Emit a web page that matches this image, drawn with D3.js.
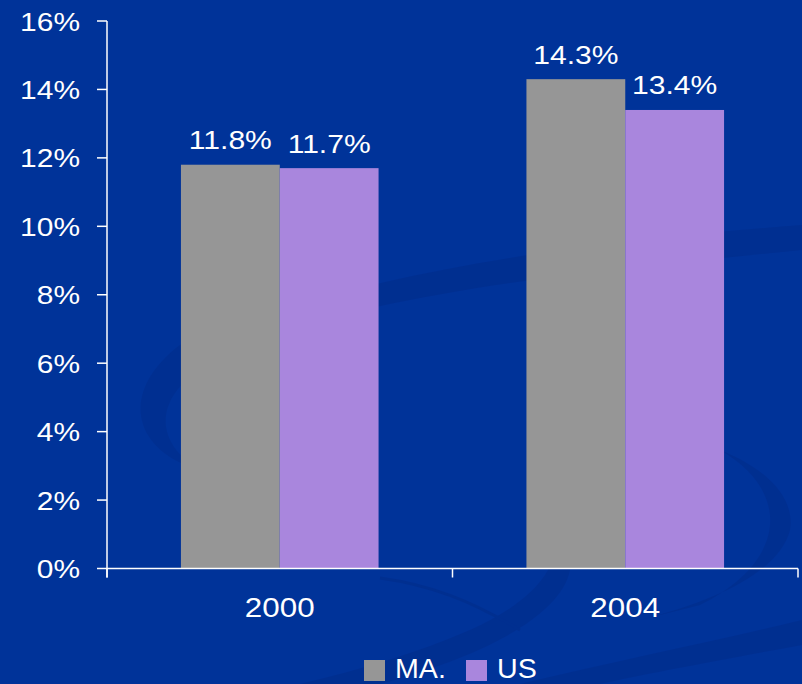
<!DOCTYPE html>
<html>
<head>
<meta charset="utf-8">
<script src="https://cdn.jsdelivr.net/npm/d3@7"></script>
<style>
  html, body { margin: 0; padding: 0; background: #003399; }
  svg { display: block; font-family: "Liberation Sans", Arial, sans-serif; }
</style>
</head>
<body>
<div id="chart"></div>
<script>
// chart data
const categories = ["2000", "2004"];
const seriesNames = ["MA.", "US"];
const maValues = [0.118, 0.143];
const usValues = [0.117, 0.134];
const yTicks = [0, 0.02, 0.04, 0.06, 0.08, 0.10, 0.12, 0.14, 0.16];
const colors = ["#969696", "#a986dd"];

const W = 802, H = 684;
const margin = { top: 21, right: 4, bottom: 115.5, left: 107 };

const svg = d3.select("#chart").append("svg")
    .attr("width", W)
    .attr("height", H);

svg.append("rect").attr("width", W).attr("height", H).attr("fill", "#003399");

// faint background swooshes
const swoosh = svg.append("g").attr("fill", "#002a85").attr("opacity", 0.4);
swoosh.append("path")
    .attr("d", "M180,345 C120,390 130,450 200,470 C150,440 150,390 230,350 C380,290 600,270 802,250 L802,225 C600,240 360,270 180,345 Z");
swoosh.append("path")
    .attr("d", "M380,684 C470,660 560,620 570,570 C575,540 560,520 540,510 C570,540 560,590 470,630 C420,652 360,670 300,684 Z");
swoosh.append("path")
    .attr("d", "M640,620 C720,600 780,570 790,530 C795,500 770,470 720,450 C790,490 790,560 700,605 Z");
swoosh.append("path")
    .attr("d", "M520,684 C620,660 720,640 802,620 L802,645 C720,660 640,675 600,684 Z");
swoosh.append("path")
    .attr("fill", "none").attr("stroke", "#002a85").attr("stroke-width", 3)
    .attr("d", "M380,578 C430,585 470,600 520,630");

const x0 = d3.scaleBand()
    .domain(categories)
    .range([margin.left, W - margin.right])
    .paddingInner(0).paddingOuter(0);

const bw = x0.bandwidth();
const x1 = d3.scaleBand()
    .domain(seriesNames)
    .range([bw * 0.214, bw * 0.786])
    .padding(0);

const y = d3.scaleLinear()
    .domain([0, 0.16])
    .range([H - margin.bottom, margin.top]);

const fmt = d3.format(".0%");
const fmt1 = d3.format(".1%");

// helper for horizontally stretched text
function stretchedText(g, x, yy, str, size, sx, anchor) {
    return g.append("text")
        .attr("transform", `translate(${x},${yy}) scale(${sx},1)`)
        .attr("text-anchor", anchor)
        .attr("font-size", size)
        .attr("fill", "#ffffff")
        .text(str);
}

// bars
const rows = categories.map((c, i) => ({ cat: c, vals: [maValues[i], usValues[i]] }));
const groups = svg.append("g").selectAll("g")
    .data(rows)
    .join("g")
    .attr("transform", d => `translate(${x0(d.cat)},0)`);

groups.selectAll("rect")
    .data(d => d.vals.map((v, j) => ({ name: seriesNames[j], v, j })))
    .join("rect")
    .attr("x", d => x1(d.name))
    .attr("y", d => y(d.v))
    .attr("width", x1.bandwidth())
    .attr("height", d => y(0) - y(d.v))
    .attr("fill", d => colors[d.j]);

// value labels
const labelG = svg.append("g");
rows.forEach(r => {
    r.vals.forEach((v, j) => {
        const cx = x0(r.cat) + x1(seriesNames[j]) + x1.bandwidth() / 2;
        stretchedText(labelG, cx, y(v) - 15.5, fmt1(v), 25.5, 1.18, "middle");
    });
});

// y axis
const axisColor = "#ffffff";
const yAxis = svg.append("g");
yAxis.append("line")
    .attr("x1", margin.left).attr("x2", margin.left)
    .attr("y1", y(0.16)).attr("y2", y(0) + 9)
    .attr("stroke", axisColor).attr("stroke-width", 1.5);
yTicks.forEach(t => {
    yAxis.append("line")
        .attr("x1", margin.left - 10).attr("x2", margin.left)
        .attr("y1", y(t)).attr("y2", y(t))
        .attr("stroke", axisColor).attr("stroke-width", 1.5);
    stretchedText(yAxis, 80, y(t) + 9.5, fmt(t), 26.5, 1.13, "end");
});

// x axis
const xAxis = svg.append("g");
xAxis.append("line")
    .attr("x1", margin.left).attr("x2", W - margin.right)
    .attr("y1", y(0)).attr("y2", y(0))
    .attr("stroke", axisColor).attr("stroke-width", 1.5);
const boundaries = categories.map(c => x0(c)).concat([x0(categories[categories.length - 1]) + bw]);
boundaries.forEach(b => {
    xAxis.append("line")
        .attr("x1", b).attr("x2", b)
        .attr("y1", y(0)).attr("y2", y(0) + 9)
        .attr("stroke", axisColor).attr("stroke-width", 1.5);
});
categories.forEach(c => {
    stretchedText(xAxis, x0(c) + bw / 2, 617, c, 28, 1.12, "middle");
});

// legend
const legend = svg.append("g");
const legendItems = [
    { name: seriesNames[0], sx: 364, tx: 395 },
    { name: seriesNames[1], sx: 466, tx: 497 }
];
legendItems.forEach((d, i) => {
    legend.append("rect")
        .attr("x", d.sx).attr("y", 660)
        .attr("width", 21).attr("height", 21)
        .attr("fill", colors[i]);
    stretchedText(legend, d.tx, 678, d.name, 27, 1.06, "start");
});
</script>
</body>
</html>
